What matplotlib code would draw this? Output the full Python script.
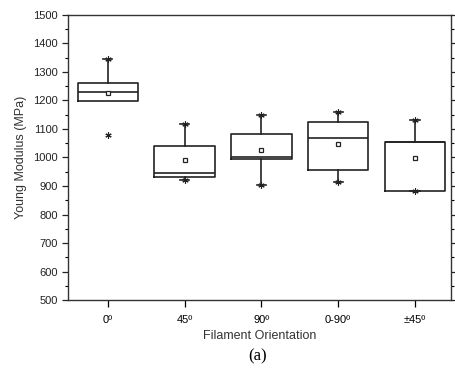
import matplotlib.pyplot as plt
from matplotlib.ticker import MultipleLocator

orientations = ["0º", "45º", "90º", "0-90º", "±45º"]
q1 = [1197, 933, 995, 955, 882]
medians = [1229, 947, 1003, 1068, 1056]
q3 = [1262, 1041, 1084, 1123, 1056]
means = [1225, 991, 1025, 1046, 999]
whisk_lo = [1197, 920, 905, 913, 882]
whisk_hi = [1345, 1117, 1148, 1160, 1132]
outliers = [[1080], [], [], [], []]

plt.rcParams['font.family'] = ['Liberation Sans', 'DejaVu Sans']

fig = plt.figure(figsize=(4.56, 3.71), dpi=100)
ax = fig.add_axes([0.149, 0.191, 0.840, 0.769])

stats = []
for i in range(len(orientations)):
    stats.append(dict(label=orientations[i], q1=q1[i], med=medians[i], q3=q3[i],
                      mean=means[i], whislo=whisk_lo[i], whishi=whisk_hi[i],
                      fliers=outliers[i]))

pos = list(range(1, len(orientations) + 1))
bp = ax.bxp(stats, positions=pos, widths=0.79, showmeans=True, showcaps=True,
            boxprops=dict(color='#222222', linewidth=1.2),
            medianprops=dict(color='#222222', linewidth=1.2),
            whiskerprops=dict(color='#222222', linewidth=1.2),
            capprops=dict(color='#222222', linewidth=1.2),
            capwidths=0.12,
            meanprops=dict(marker='s', markersize=3.5, markerfacecolor='white',
                           markeredgecolor='#222222', markeredgewidth=0.9),
            flierprops=dict(marker=(6, 2, 0), markersize=4.5,
                            markeredgecolor='#222222', markeredgewidth=0.8))

# star markers at whisker ends (none where the whisker collapses onto the box)
for i in range(len(orientations)):
    ends = [whisk_hi[i]]
    if whisk_lo[i] != q1[i] or i == len(orientations) - 1:
        ends.append(whisk_lo[i])
    elif i < len(orientations) - 1:
        bp['caps'][2 * i].set_visible(False)
    ax.plot([pos[i]] * len(ends), ends, linestyle='none',
            marker=(6, 2, 0), markersize=4.5, color='#222222', markeredgewidth=0.8)

ax.set_xlim(0.48, 5.47)
ax.set_ylim(500, 1500)
ax.yaxis.set_major_locator(MultipleLocator(100))
ax.yaxis.set_minor_locator(MultipleLocator(50))
ax.tick_params(axis='y', which='major', length=4, width=0.9, labelsize=8,
               right=True, direction='out', colors='#222222')
ax.tick_params(axis='y', which='minor', length=2.5, width=0.8, right=True,
               direction='out')
ax.tick_params(axis='x', length=5, width=0.9, labelsize=8, pad=6)
for s in ax.spines.values():
    s.set_linewidth(1.0)
    s.set_color('#333333')

ax.set_ylabel("Young Modulus (MPa)", fontsize=9, labelpad=4, color='#333333')
ax.set_xlabel("Filament Orientation", fontsize=9, labelpad=3, color='#333333')
fig.text(0.565, 0.04, "(a)", fontsize=12, family='Liberation Serif', ha='center',
         va='center')

fig.savefig("out.png", dpi=100)
